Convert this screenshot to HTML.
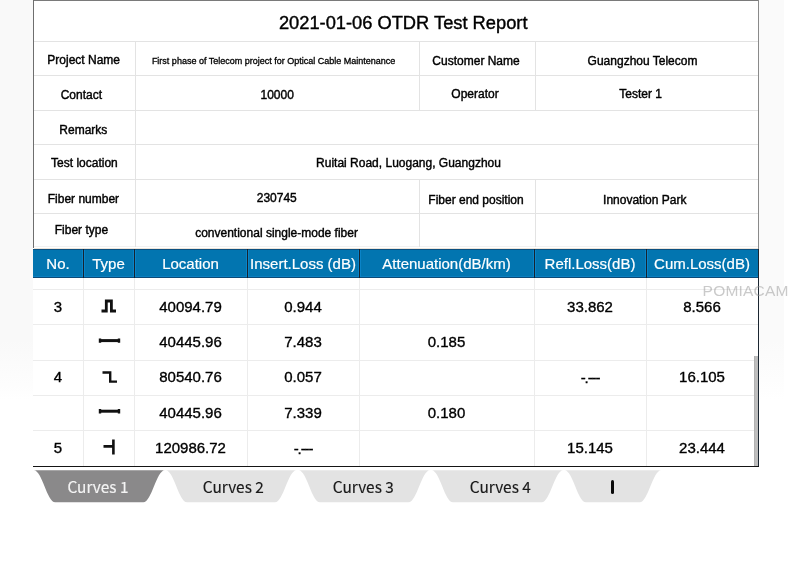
<!DOCTYPE html>
<html><head><meta charset="utf-8"><title>OTDR Test Report</title>
<style>
html,body{margin:0;padding:0;background:#fff;}
body{width:790px;height:580px;position:relative;overflow:hidden;}
.t{position:absolute;white-space:nowrap;}
.r{position:absolute;}
</style></head><body>
<div class="r" style="left:0px;top:0px;width:33px;height:400px;background:linear-gradient(#f9f9f9 0, #f9f9f9 340px, #fdfdfd 385px, #fff 400px);"></div>
<div class="r" style="left:759px;top:0px;width:25px;height:400px;background:linear-gradient(#fafafa 0, #fafafa 340px, #fdfdfd 380px, #fff 400px);"></div>
<div class="r" style="left:33px;top:0px;width:726px;height:466px;background:#fff;"></div>
<div class="r" style="left:33px;top:0px;width:726px;height:1px;background:#7a7a7a;"></div>
<div class="r" style="left:33px;top:0px;width:1px;height:248px;background:#6e6e6e;"></div>
<div class="r" style="left:758px;top:0px;width:1px;height:249px;background:#8a8a8a;"></div>
<div class="r" style="left:34px;top:41px;width:724px;height:1px;background:#e3e3e3;"></div>
<div class="r" style="left:34px;top:75px;width:724px;height:1px;background:#e3e3e3;"></div>
<div class="r" style="left:34px;top:109.5px;width:724px;height:1px;background:#e3e3e3;"></div>
<div class="r" style="left:34px;top:144px;width:724px;height:1px;background:#e3e3e3;"></div>
<div class="r" style="left:34px;top:178.5px;width:724px;height:1px;background:#e3e3e3;"></div>
<div class="r" style="left:34px;top:213px;width:724px;height:1px;background:#e3e3e3;"></div>
<div class="r" style="left:34px;top:246px;width:724px;height:1px;background:#f2f2f2;"></div>
<div class="r" style="left:135px;top:41px;width:1px;height:206px;background:#e3e3e3;"></div>
<div class="r" style="left:419px;top:41px;width:1px;height:69px;background:#e3e3e3;"></div>
<div class="r" style="left:419px;top:178.5px;width:1px;height:68px;background:#e3e3e3;"></div>
<div class="r" style="left:535px;top:41px;width:1px;height:69px;background:#e3e3e3;"></div>
<div class="r" style="left:535px;top:178.5px;width:1px;height:68px;background:#e3e3e3;"></div>
<div class="t" style="left:103.20px;width:600.00px;top:11.06px;line-height:24px;font-size:18.3px;color:#000;text-align:center;font-family:'Liberation Sans', Arial, sans-serif;-webkit-text-stroke:0.4px #000;">2021-01-06 OTDR Test Report</div>
<div class="t" style="left:-216.30px;width:600.00px;top:47.94px;line-height:24px;font-size:12px;color:#000;text-align:center;font-family:'Liberation Sans', Arial, sans-serif;-webkit-text-stroke:0.4px #000;">Project Name</div>
<div class="t" style="left:-26.40px;width:600.00px;top:48.78px;line-height:24px;font-size:9px;color:#000;text-align:center;font-family:'Liberation Sans', Arial, sans-serif;-webkit-text-stroke:0.3px #000;">First phase of Telecom project for Optical Cable Maintenance</div>
<div class="t" style="left:176.05px;width:600.00px;top:49.24px;line-height:24px;font-size:12px;color:#000;text-align:center;font-family:'Liberation Sans', Arial, sans-serif;-webkit-text-stroke:0.4px #000;">Customer Name</div>
<div class="t" style="left:342.55px;width:600.00px;top:49.14px;line-height:24px;font-size:12px;color:#000;text-align:center;font-family:'Liberation Sans', Arial, sans-serif;-webkit-text-stroke:0.4px #000;">Guangzhou Telecom</div>
<div class="t" style="left:-218.65px;width:600.00px;top:83.04px;line-height:24px;font-size:12px;color:#000;text-align:center;font-family:'Liberation Sans', Arial, sans-serif;-webkit-text-stroke:0.4px #000;">Contact</div>
<div class="t" style="left:-22.85px;width:600.00px;top:83.44px;line-height:24px;font-size:12px;color:#000;text-align:center;font-family:'Liberation Sans', Arial, sans-serif;-webkit-text-stroke:0.4px #000;">10000</div>
<div class="t" style="left:175.00px;width:600.00px;top:82.04px;line-height:24px;font-size:12px;color:#000;text-align:center;font-family:'Liberation Sans', Arial, sans-serif;-webkit-text-stroke:0.4px #000;">Operator</div>
<div class="t" style="left:340.55px;width:600.00px;top:82.04px;line-height:24px;font-size:12px;color:#000;text-align:center;font-family:'Liberation Sans', Arial, sans-serif;-webkit-text-stroke:0.4px #000;">Tester 1</div>
<div class="t" style="left:-216.70px;width:600.00px;top:118.14px;line-height:24px;font-size:12px;color:#000;text-align:center;font-family:'Liberation Sans', Arial, sans-serif;-webkit-text-stroke:0.4px #000;">Remarks</div>
<div class="t" style="left:-215.60px;width:600.00px;top:151.34px;line-height:24px;font-size:12px;color:#000;text-align:center;font-family:'Liberation Sans', Arial, sans-serif;-webkit-text-stroke:0.4px #000;">Test location</div>
<div class="t" style="left:108.50px;width:600.00px;top:150.94px;line-height:24px;font-size:12px;color:#000;text-align:center;font-family:'Liberation Sans', Arial, sans-serif;-webkit-text-stroke:0.4px #000;">Ruitai Road, Luogang, Guangzhou</div>
<div class="t" style="left:-216.60px;width:600.00px;top:187.04px;line-height:24px;font-size:12px;color:#000;text-align:center;font-family:'Liberation Sans', Arial, sans-serif;-webkit-text-stroke:0.4px #000;">Fiber number</div>
<div class="t" style="left:-23.25px;width:600.00px;top:186.24px;line-height:24px;font-size:12px;color:#000;text-align:center;font-family:'Liberation Sans', Arial, sans-serif;-webkit-text-stroke:0.4px #000;">230745</div>
<div class="t" style="left:176.00px;width:600.00px;top:188.14px;line-height:24px;font-size:12px;color:#000;text-align:center;font-family:'Liberation Sans', Arial, sans-serif;-webkit-text-stroke:0.4px #000;">Fiber end position</div>
<div class="t" style="left:344.75px;width:600.00px;top:187.94px;line-height:24px;font-size:12px;color:#000;text-align:center;font-family:'Liberation Sans', Arial, sans-serif;-webkit-text-stroke:0.4px #000;">Innovation Park</div>
<div class="t" style="left:-218.55px;width:600.00px;top:217.74px;line-height:24px;font-size:12px;color:#000;text-align:center;font-family:'Liberation Sans', Arial, sans-serif;-webkit-text-stroke:0.4px #000;">Fiber type</div>
<div class="t" style="left:-23.45px;width:600.00px;top:221.44px;line-height:24px;font-size:12px;color:#000;text-align:center;font-family:'Liberation Sans', Arial, sans-serif;-webkit-text-stroke:0.4px #000;">conventional single-mode fiber</div>
<div class="r" style="left:33px;top:249px;width:726px;height:29px;background:#0275b0;"></div>
<div class="r" style="left:33px;top:249px;width:726px;height:1px;background:#0b4f80;"></div>
<div class="r" style="left:34px;top:248px;width:724px;height:1px;background:#ece4da;"></div>
<div class="r" style="left:33px;top:277px;width:726px;height:1px;background:#0b4a78;"></div>
<div class="r" style="left:33px;top:276px;width:726px;height:1px;background:#0a7fc0;"></div>
<div class="r" style="left:82px;top:250px;width:1px;height:27px;background:#0a84c8;"></div>
<div class="r" style="left:84px;top:250px;width:1px;height:27px;background:#0a84c8;"></div>
<div class="r" style="left:83px;top:249px;width:1px;height:29px;background:#17232e;"></div>
<div class="r" style="left:133px;top:250px;width:1px;height:27px;background:#0a84c8;"></div>
<div class="r" style="left:135px;top:250px;width:1px;height:27px;background:#0a84c8;"></div>
<div class="r" style="left:134px;top:249px;width:1px;height:29px;background:#17232e;"></div>
<div class="r" style="left:246px;top:250px;width:1px;height:27px;background:#0a84c8;"></div>
<div class="r" style="left:248px;top:250px;width:1px;height:27px;background:#0a84c8;"></div>
<div class="r" style="left:247px;top:249px;width:1px;height:29px;background:#17232e;"></div>
<div class="r" style="left:358px;top:250px;width:1px;height:27px;background:#0a84c8;"></div>
<div class="r" style="left:360px;top:250px;width:1px;height:27px;background:#0a84c8;"></div>
<div class="r" style="left:359px;top:249px;width:1px;height:29px;background:#17232e;"></div>
<div class="r" style="left:533px;top:250px;width:1px;height:27px;background:#0a84c8;"></div>
<div class="r" style="left:535px;top:250px;width:1px;height:27px;background:#0a84c8;"></div>
<div class="r" style="left:534px;top:249px;width:1px;height:29px;background:#17232e;"></div>
<div class="r" style="left:645px;top:250px;width:1px;height:27px;background:#0a84c8;"></div>
<div class="r" style="left:647px;top:250px;width:1px;height:27px;background:#0a84c8;"></div>
<div class="r" style="left:646px;top:249px;width:1px;height:29px;background:#17232e;"></div>
<div class="r" style="left:758px;top:249px;width:1px;height:217px;background:#1b2631;"></div>
<div class="t" style="left:33.00px;width:50.00px;top:251.80px;line-height:24px;font-size:15px;color:#fff;text-align:center;font-family:'Liberation Sans', Arial, sans-serif;-webkit-text-stroke:0.2px #fff;">No.</div>
<div class="t" style="left:83.00px;width:51.00px;top:251.80px;line-height:24px;font-size:15px;color:#fff;text-align:center;font-family:'Liberation Sans', Arial, sans-serif;-webkit-text-stroke:0.2px #fff;">Type</div>
<div class="t" style="left:134.00px;width:113.00px;top:251.80px;line-height:24px;font-size:15px;color:#fff;text-align:center;font-family:'Liberation Sans', Arial, sans-serif;-webkit-text-stroke:0.2px #fff;">Location</div>
<div class="t" style="left:247.00px;width:112.00px;top:251.80px;line-height:24px;font-size:15px;color:#fff;text-align:center;font-family:'Liberation Sans', Arial, sans-serif;-webkit-text-stroke:0.2px #fff;">Insert.Loss (dB)</div>
<div class="t" style="left:359.00px;width:175.00px;top:251.80px;line-height:24px;font-size:15px;color:#fff;text-align:center;font-family:'Liberation Sans', Arial, sans-serif;-webkit-text-stroke:0.2px #fff;">Attenuation(dB/km)</div>
<div class="t" style="left:534.00px;width:112.00px;top:251.80px;line-height:24px;font-size:15px;color:#fff;text-align:center;font-family:'Liberation Sans', Arial, sans-serif;-webkit-text-stroke:0.2px #fff;">Refl.Loss(dB)</div>
<div class="t" style="left:646.00px;width:112.00px;top:251.80px;line-height:24px;font-size:15px;color:#fff;text-align:center;font-family:'Liberation Sans', Arial, sans-serif;-webkit-text-stroke:0.2px #fff;">Cum.Loss(dB)</div>
<div class="r" style="left:33px;top:289px;width:725px;height:1px;background:#ececec;"></div>
<div class="r" style="left:33px;top:324px;width:725px;height:1px;background:#ececec;"></div>
<div class="r" style="left:33px;top:359.5px;width:725px;height:1px;background:#ececec;"></div>
<div class="r" style="left:33px;top:395px;width:725px;height:1px;background:#ececec;"></div>
<div class="r" style="left:33px;top:430px;width:725px;height:1px;background:#ececec;"></div>
<div class="r" style="left:83px;top:278px;width:1px;height:188px;background:#ececec;"></div>
<div class="r" style="left:134px;top:278px;width:1px;height:188px;background:#ececec;"></div>
<div class="r" style="left:247px;top:278px;width:1px;height:188px;background:#ececec;"></div>
<div class="r" style="left:359px;top:278px;width:1px;height:188px;background:#ececec;"></div>
<div class="r" style="left:534px;top:278px;width:1px;height:188px;background:#ececec;"></div>
<div class="r" style="left:646px;top:278px;width:1px;height:188px;background:#ececec;"></div>
<div class="r" style="left:33px;top:465.9px;width:726px;height:1.3px;background:#151515;"></div>
<div class="r" style="left:754px;top:356px;width:4px;height:110px;background:#bebebe;"></div>
<div class="r" style="left:754px;top:356px;width:1px;height:110px;background:#b2b2b2;"></div>
<div class="t" style="left:33.00px;width:50.00px;top:294.67px;line-height:24px;font-size:15px;color:#000;text-align:center;font-family:'Liberation Sans', Arial, sans-serif;-webkit-text-stroke:0.35px #000;">3</div>
<div class="t" style="left:134.00px;width:113.00px;top:294.67px;line-height:24px;font-size:15px;color:#000;text-align:center;font-family:'Liberation Sans', Arial, sans-serif;-webkit-text-stroke:0.35px #000;">40094.79</div>
<div class="t" style="left:247.00px;width:112.00px;top:294.67px;line-height:24px;font-size:15px;color:#000;text-align:center;font-family:'Liberation Sans', Arial, sans-serif;-webkit-text-stroke:0.35px #000;">0.944</div>
<div class="t" style="left:534.00px;width:112.00px;top:294.67px;line-height:24px;font-size:15px;color:#000;text-align:center;font-family:'Liberation Sans', Arial, sans-serif;-webkit-text-stroke:0.35px #000;">33.862</div>
<div class="t" style="left:646.00px;width:112.00px;top:294.67px;line-height:24px;font-size:15px;color:#000;text-align:center;font-family:'Liberation Sans', Arial, sans-serif;-webkit-text-stroke:0.35px #000;">8.566</div>
<div class="t" style="left:134.00px;width:113.00px;top:329.92px;line-height:24px;font-size:15px;color:#000;text-align:center;font-family:'Liberation Sans', Arial, sans-serif;-webkit-text-stroke:0.35px #000;">40445.96</div>
<div class="t" style="left:247.00px;width:112.00px;top:329.92px;line-height:24px;font-size:15px;color:#000;text-align:center;font-family:'Liberation Sans', Arial, sans-serif;-webkit-text-stroke:0.35px #000;">7.483</div>
<div class="t" style="left:359.00px;width:175.00px;top:329.92px;line-height:24px;font-size:15px;color:#000;text-align:center;font-family:'Liberation Sans', Arial, sans-serif;-webkit-text-stroke:0.35px #000;">0.185</div>
<div class="t" style="left:33.00px;width:50.00px;top:365.42px;line-height:24px;font-size:15px;color:#000;text-align:center;font-family:'Liberation Sans', Arial, sans-serif;-webkit-text-stroke:0.35px #000;">4</div>
<div class="t" style="left:134.00px;width:113.00px;top:365.42px;line-height:24px;font-size:15px;color:#000;text-align:center;font-family:'Liberation Sans', Arial, sans-serif;-webkit-text-stroke:0.35px #000;">80540.76</div>
<div class="t" style="left:247.00px;width:112.00px;top:365.42px;line-height:24px;font-size:15px;color:#000;text-align:center;font-family:'Liberation Sans', Arial, sans-serif;-webkit-text-stroke:0.35px #000;">0.057</div>
<div class="t" style="left:534.00px;width:112.00px;top:366.02px;line-height:24px;font-size:15px;color:#000;text-align:center;font-family:'Liberation Sans', Arial, sans-serif;-webkit-text-stroke:0.35px #000;letter-spacing:-1.1px;">-.---</div>
<div class="t" style="left:646.00px;width:112.00px;top:365.42px;line-height:24px;font-size:15px;color:#000;text-align:center;font-family:'Liberation Sans', Arial, sans-serif;-webkit-text-stroke:0.35px #000;">16.105</div>
<div class="t" style="left:134.00px;width:113.00px;top:400.67px;line-height:24px;font-size:15px;color:#000;text-align:center;font-family:'Liberation Sans', Arial, sans-serif;-webkit-text-stroke:0.35px #000;">40445.96</div>
<div class="t" style="left:247.00px;width:112.00px;top:400.67px;line-height:24px;font-size:15px;color:#000;text-align:center;font-family:'Liberation Sans', Arial, sans-serif;-webkit-text-stroke:0.35px #000;">7.339</div>
<div class="t" style="left:359.00px;width:175.00px;top:400.67px;line-height:24px;font-size:15px;color:#000;text-align:center;font-family:'Liberation Sans', Arial, sans-serif;-webkit-text-stroke:0.35px #000;">0.180</div>
<div class="t" style="left:33.00px;width:50.00px;top:436.17px;line-height:24px;font-size:15px;color:#000;text-align:center;font-family:'Liberation Sans', Arial, sans-serif;-webkit-text-stroke:0.35px #000;">5</div>
<div class="t" style="left:134.00px;width:113.00px;top:436.17px;line-height:24px;font-size:15px;color:#000;text-align:center;font-family:'Liberation Sans', Arial, sans-serif;-webkit-text-stroke:0.35px #000;">120986.72</div>
<div class="t" style="left:247.00px;width:112.00px;top:436.77px;line-height:24px;font-size:15px;color:#000;text-align:center;font-family:'Liberation Sans', Arial, sans-serif;-webkit-text-stroke:0.35px #000;letter-spacing:-1.1px;">-.---</div>
<div class="t" style="left:534.00px;width:112.00px;top:436.17px;line-height:24px;font-size:15px;color:#000;text-align:center;font-family:'Liberation Sans', Arial, sans-serif;-webkit-text-stroke:0.35px #000;">15.145</div>
<div class="t" style="left:646.00px;width:112.00px;top:436.17px;line-height:24px;font-size:15px;color:#000;text-align:center;font-family:'Liberation Sans', Arial, sans-serif;-webkit-text-stroke:0.35px #000;">23.444</div>
<svg class="r" style="left:0;top:0" width="790" height="580" viewBox="0 0 790 580"><path d="M101.5,311 H106.3 V301 H111.4 V311 H116" fill="none" stroke="#111" stroke-width="2.8" stroke-linejoin="miter"/><path d="M100,340.6 H119" stroke="#111" stroke-width="3"/><path d="M100,338.4 V342.8 M119,338.4 V342.8" stroke="#111" stroke-width="2.4"/><path d="M102.5,372.5 H110.2 V381.6 H117" fill="none" stroke="#111" stroke-width="2.4"/><path d="M103.5,446.4 H113.4 M113.4,439.5 V454.5" fill="none" stroke="#111" stroke-width="2.6"/><path d="M100,411.2 H119" stroke="#111" stroke-width="3"/><path d="M100,409 V413.4 M119,409 V413.4" stroke="#111" stroke-width="2.4"/></svg>
<div class="t" style="left:702.60px;width:97.40px;top:278.73px;line-height:24px;font-size:15.5px;color:rgba(150,150,150,0.5);text-align:left;font-family:'Liberation Sans', Arial, sans-serif;letter-spacing:0.2px;">POMIACAM</div>
<svg class="r" style="left:0;top:0" width="790" height="580" viewBox="0 0 790 580"><path d="M33.8,470.2 C42.3,470.2 46.8,502.2 55.3,502.2 L143.3,502.2 C151.8,502.2 156.3,470.2 164.8,470.2 Z" fill="#8a898a"/><path d="M165.6,470.2 C174.1,470.2 178.6,502.2 187.1,502.2 L275.0,502.2 C283.5,502.2 288.0,470.2 296.5,470.2 Z" fill="#e3e3e3"/><path d="M298.5,470.2 C307.0,470.2 311.5,502.2 320.0,502.2 L408.5,502.2 C417.0,502.2 421.5,470.2 430,470.2 Z" fill="#e3e3e3"/><path d="M431.5,470.2 C440.0,470.2 444.5,502.2 453.0,502.2 L541.7,502.2 C550.2,502.2 554.7,470.2 563.2,470.2 Z" fill="#e3e3e3"/><path d="M564.5,470.2 C573.0,470.2 577.5,502.2 586.0,502.2 L639.7,502.2 C648.2,502.2 652.7,470.2 661.2,470.2 Z" fill="#e3e3e3"/></svg>
<div class="t" style="left:-2.05px;width:200.00px;top:473.66px;line-height:24px;font-size:15.4px;color:#f4f4f4;text-align:center;font-family:'Noto Sans CJK SC', 'Liberation Sans', sans-serif;-webkit-text-stroke:0.15px #f4f4f4;">Curves 1</div>
<div class="t" style="left:133.30px;width:200.00px;top:473.66px;line-height:24px;font-size:15.4px;color:#1a1a1a;text-align:center;font-family:'Noto Sans CJK SC', 'Liberation Sans', sans-serif;-webkit-text-stroke:0.15px #1a1a1a;">Curves 2</div>
<div class="t" style="left:263.30px;width:200.00px;top:473.66px;line-height:24px;font-size:15.4px;color:#1a1a1a;text-align:center;font-family:'Noto Sans CJK SC', 'Liberation Sans', sans-serif;-webkit-text-stroke:0.15px #1a1a1a;">Curves 3</div>
<div class="t" style="left:400.30px;width:200.00px;top:473.66px;line-height:24px;font-size:15.4px;color:#1a1a1a;text-align:center;font-family:'Noto Sans CJK SC', 'Liberation Sans', sans-serif;-webkit-text-stroke:0.15px #1a1a1a;">Curves 4</div>
<div class="r" style="left:611px;top:480.3px;width:3px;height:13.4px;background:#0a0a0a;border-radius:1.5px;"></div>
</body></html>
